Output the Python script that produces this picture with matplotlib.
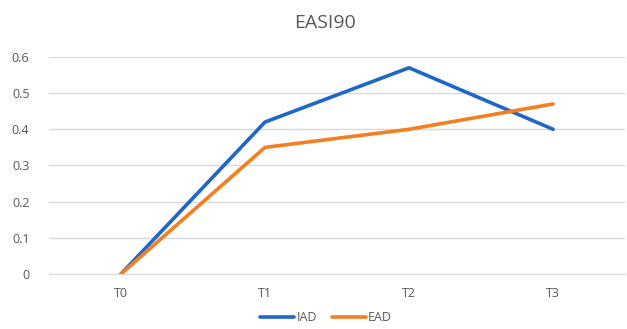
import matplotlib
matplotlib.use("Agg")
import matplotlib.pyplot as plt

# EASI90 response by timepoint
timepoints = ["T0", "T1", "T2", "T3"]
iad = [0.0, 0.42, 0.57, 0.40]
ead = [0.0, 0.35, 0.40, 0.47]

plt.rcParams['font.family'] = ['Open Sans', 'DejaVu Sans']

fig = plt.figure(figsize=(6.27, 3.29), dpi=100)
ax = fig.add_axes([0.078, 0.167, 0.919, 0.66])

x = range(len(timepoints))
ax.plot(x, iad, color="#1f66c9", lw=2.6, label="IAD", solid_capstyle="round")
ax.plot(x, ead, color="#f57f20", lw=2.6, label="EAD", solid_capstyle="round")

ax.set_xlim(-0.5, 3.5)
ax.set_ylim(0, 0.6)
ax.set_yticks([0, 0.1, 0.2, 0.3, 0.4, 0.5, 0.6])
ax.set_yticklabels(["0", "0.1", "0.2", "0.3", "0.4", "0.5", "0.6"])
ax.set_xticks(list(x))
ax.set_xticklabels(timepoints)
ax.tick_params(axis="both", length=0, colors="#595959", labelsize=9)
ax.tick_params(axis="x", pad=9)
ax.tick_params(axis="y", pad=14)
ax.grid(axis="y", color="#d9d9d9", lw=1)
ax.set_axisbelow(True)
for s in ax.spines.values():
    s.set_visible(False)
ax.spines["bottom"].set_visible(True)
ax.spines["bottom"].set_color("#d9d9d9")

fig.text(0.518, 0.93, "EASI90", ha="center", va="center", fontsize=14, color="#595959")

fig.legend(loc="center", bbox_to_anchor=(0.52, 0.035), ncol=2, frameon=False,
           fontsize=9, labelcolor="#595959", handlelength=2.7, handletextpad=0.2,
           columnspacing=1.2)

fig.savefig("out.png", dpi=100)
